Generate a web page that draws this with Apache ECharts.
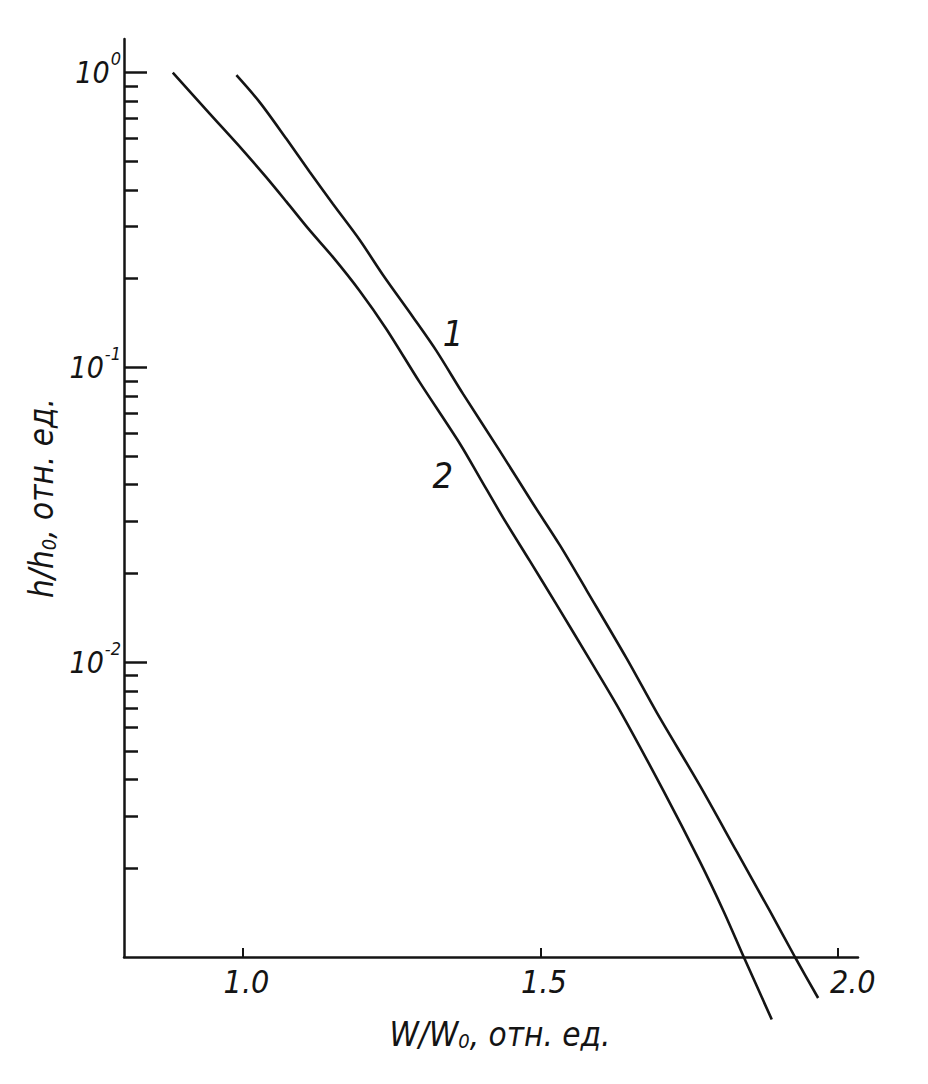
<!DOCTYPE html>
<html>
<head>
<meta charset="utf-8">
<script src="https://cdn.jsdelivr.net/npm/echarts@6/dist/echarts.min.js"></script>
<style>
html,body{margin:0;padding:0;background:#fff;}
#c{width:928px;height:1084px;}
</style>
</head>
<body>
<div id="c"></div>
<script>
// ---- data (W/W0 vs h/h0) ----
const curve1X = [0.989, 1.028, 1.073, 1.112, 1.151, 1.196, 1.236, 1.286, 1.325, 1.370, 1.432, 1.488, 1.533, 1.578, 1.645, 1.696, 1.768, 1.830, 1.886, 1.928, 1.967];
const curve1Y = [0.98, 0.794, 0.596, 0.461, 0.359, 0.271, 0.205, 0.148, 0.114, 0.0813, 0.0520, 0.0344, 0.0249, 0.0175, 0.0103, 0.00673, 0.00382, 0.00228, 0.00143, 0.00100, 0.000726];
const curve2X = [0.882, 0.944, 1.000, 1.039, 1.073, 1.112, 1.151, 1.196, 1.241, 1.297, 1.365, 1.398, 1.437, 1.482, 1.527, 1.583, 1.634, 1.707, 1.768, 1.808, 1.841, 1.889];
const curve2Y = [1.0, 0.726, 0.545, 0.442, 0.365, 0.292, 0.237, 0.182, 0.135, 0.0891, 0.0550, 0.0423, 0.0310, 0.0221, 0.0157, 0.0102, 0.00684, 0.00366, 0.00211, 0.00143, 0.00101, 0.000614];
const curveNames = ['1', '2'];
const curveLabelPos = [[1.353, 0.130], [1.336, 0.0429]];
const xTickValues = [1.0, 1.5, 2.0];
const yMajorValues = [0.01, 0.1, 1];
const yMinorValues = [];
[-3, -2, -1].forEach(function (d) { for (let k = 2; k <= 9; k++) yMinorValues.push(+(k * Math.pow(10, d)).toPrecision(3)); });
const xTitle = 'W/W{sub|0}, отн. ед.';
const yTitle = 'h/h{sub|0}, отн. ед.';

const INK = '#141414';
const FONT = "'DejaVu Sans Condensed','Liberation Sans Narrow','DejaVu Sans',sans-serif";

function zip(xs, ys) { return xs.map(function (x, i) { return [x, ys[i]]; }); }

const chart = echarts.init(document.getElementById('c'), null, { renderer: 'svg' });
const yCommon = { type: 'log', logBase: 10, min: 0.001, max: 1.3, splitLine: { show: false } };
const xLabelStyle = { color: INK, fontFamily: FONT, fontStyle: 'italic', fontSize: 32 };

chart.setOption({
  backgroundColor: '#ffffff',
  animation: false,
  grid: { left: 124, right: 70, top: 39, bottom: 127, containLabel: false },
  xAxis: {
    type: 'value', min: 0.8, max: 2.034,
    axisLine: { show: true, onZero: false, lineStyle: { color: INK, width: 2.5 } },
    axisTick: { show: true, inside: true, length: 9, customValues: xTickValues, lineStyle: { color: INK, width: 2 } },
    axisLabel: {
      show: true, customValues: xTickValues, margin: 9,
      formatter: function (v) {
        const t = Number(v).toFixed(1);
        return (Number(v) >= 2 ? '{e|' : '{n|') + t + '}';
      },
      rich: {
        n: Object.assign({ padding: [0, 0, 0, 7] }, xLabelStyle),
        e: Object.assign({ padding: [0, 0, 0, 30] }, xLabelStyle)
      }
    },
    splitLine: { show: false },
    name: xTitle, nameLocation: 'middle', nameGap: 60,
    nameTextStyle: {
      color: INK, fontFamily: FONT, fontStyle: 'italic', fontSize: 33, padding: [0, 0, 0, 18],
      rich: { sub: { fontFamily: FONT, fontStyle: 'italic', fontSize: 20, padding: [14, 0, 0, 0], color: INK } }
    }
  },
  yAxis: [
    Object.assign({}, yCommon, {
      position: 'left',
      axisLine: { show: true, onZero: false, lineStyle: { color: INK, width: 2.5 } },
      axisTick: { show: true, inside: true, length: 23, customValues: yMajorValues, lineStyle: { color: INK, width: 2.5 } },
      axisLabel: {
        show: true, customValues: yMajorValues, margin: 3,
        formatter: function (v) { return '{b|10}{s|' + Math.round(Math.log10(v)) + '}'; },
        rich: {
          b: { fontFamily: FONT, fontStyle: 'italic', fontSize: 30, color: INK },
          s: { fontFamily: FONT, fontStyle: 'italic', fontSize: 18, color: INK, padding: [0, 0, 28, 1] }
        }
      },
      name: yTitle, nameLocation: 'middle', nameRotate: 90, nameGap: 64,
      nameTextStyle: {
        color: INK, fontFamily: FONT, fontStyle: 'italic', fontSize: 33, padding: [0, 0, 0, 0],
        rich: { sub: { fontFamily: FONT, fontStyle: 'italic', fontSize: 20, padding: [14, 0, 0, 0], color: INK } }
      }
    }),
    Object.assign({}, yCommon, {
      position: 'left',
      axisLine: { show: false },
      axisTick: { show: true, inside: true, length: 14, customValues: yMinorValues, lineStyle: { color: INK, width: 2.5 } },
      axisLabel: { show: false }
    })
  ],
  series: [
    {
      name: curveNames[0], type: 'line', data: zip(curve1X, curve1Y), yAxisIndex: 0,
      smooth: 0.3, showSymbol: false, symbol: 'none', clip: false,
      lineStyle: { color: INK, width: 2.6 },
      markPoint: {
        symbol: 'circle', symbolSize: 1, itemStyle: { color: 'rgba(0,0,0,0)' },
        label: { show: true, formatter: curveNames[0], color: INK, fontFamily: FONT, fontStyle: 'italic', fontSize: 36, position: 'inside' },
        data: [{ coord: curveLabelPos[0] }]
      }
    },
    {
      name: curveNames[1], type: 'line', data: zip(curve2X, curve2Y), yAxisIndex: 0,
      smooth: 0.3, showSymbol: false, symbol: 'none', clip: false,
      lineStyle: { color: INK, width: 2.6 },
      markPoint: {
        symbol: 'circle', symbolSize: 1, itemStyle: { color: 'rgba(0,0,0,0)' },
        label: { show: true, formatter: curveNames[1], color: INK, fontFamily: FONT, fontStyle: 'italic', fontSize: 36, position: 'inside' },
        data: [{ coord: curveLabelPos[1] }]
      }
    }
  ]
});
</script>
</body>
</html>
